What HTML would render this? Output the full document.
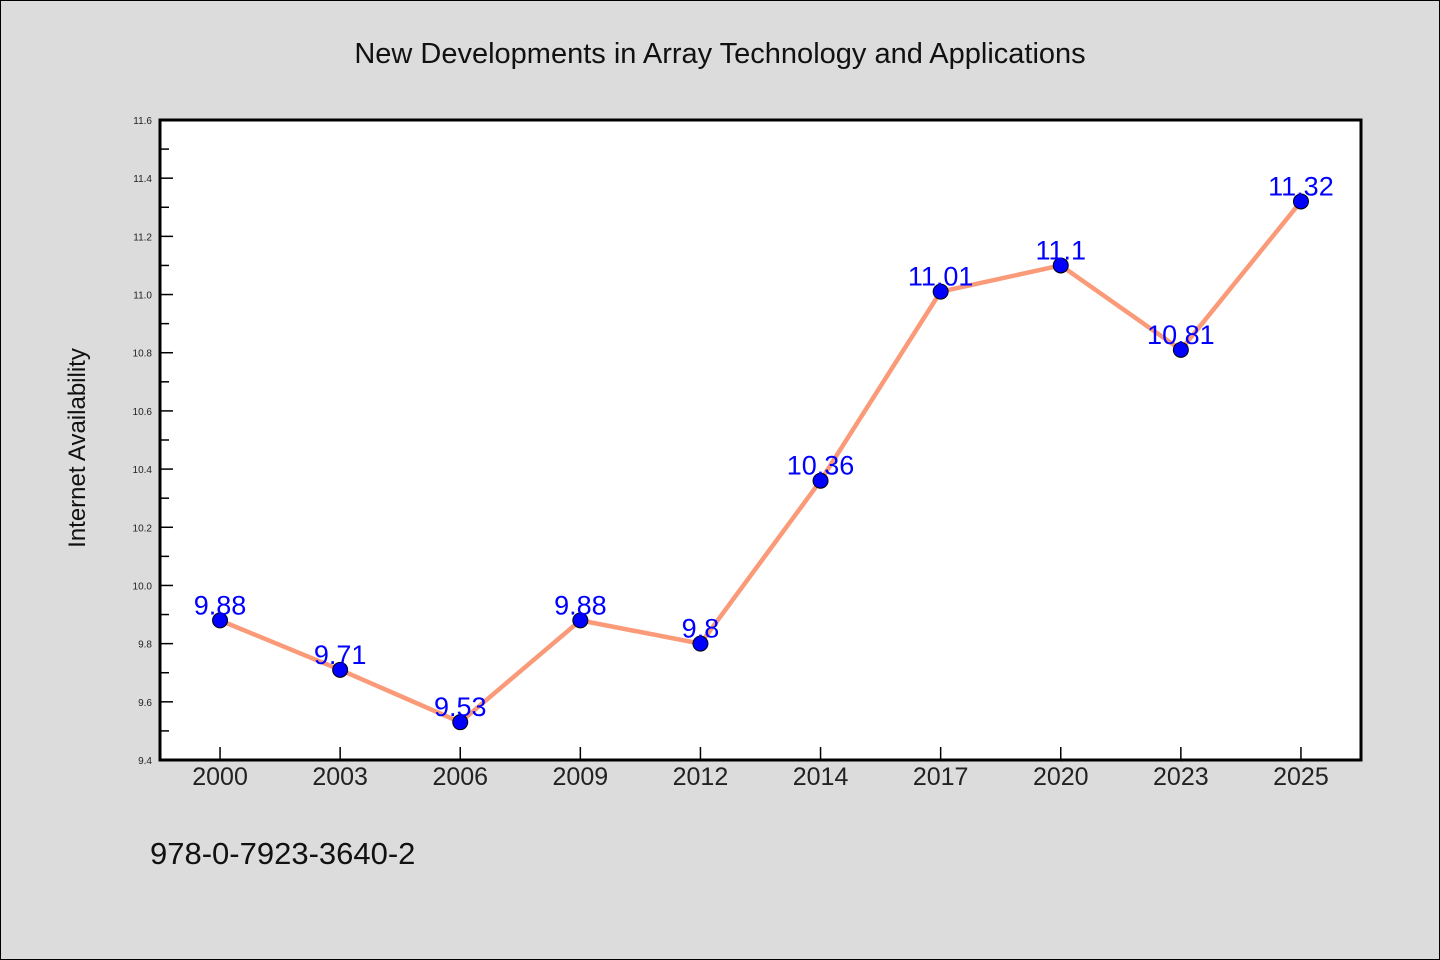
<!DOCTYPE html>
<html><head><meta charset="utf-8"><style>
html,body{margin:0;padding:0;background:#dcdcdc;}
svg{display:block;font-family:"WenQuanYi Zen Hei","Liberation Sans",sans-serif;}
</style></head><body>
<svg id="chart" width="1440" height="960" viewBox="0 0 1440 960">
<rect x="0.5" y="0.5" width="1439" height="959" fill="#dcdcdc" stroke="#000" stroke-width="1"/>
<text x="720" y="63" text-anchor="middle" font-size="29" fill="#111">New Developments in Array Technology and Applications</text>
<rect x="160" y="120" width="1201" height="640" fill="#fff"/>
<g id="yaxis"></g>
<g id="xaxis"></g>
<g id="series"></g>
<rect x="160" y="120" width="1201" height="640" fill="none" stroke="#000" stroke-width="3"/>
<text transform="translate(85,448) rotate(-90)" text-anchor="middle" font-size="24" fill="#111">Internet Availability</text>
<text x="150" y="864" font-size="31" fill="#111">978-0-7923-3640-2</text>
</svg>
<script>
const categories = ["2000","2003","2006","2009","2012","2014","2017","2020","2023","2025"];
const values = [9.88, 9.71, 9.53, 9.88, 9.8, 10.36, 11.01, 11.1, 10.81, 11.32];
const labels = ["9.88","9.71","9.53","9.88","9.8","10.36","11.01","11.1","10.81","11.32"];
const yTicks = ["9.4","9.6","9.8","10.0","10.2","10.4","10.6","10.8","11.0","11.2","11.4","11.6"];
const NS="http://www.w3.org/2000/svg";
const L=160,R=1361,T=120,B=760,yMin=9.4,yMax=11.6;
const xs=i=>L+(R-L)/categories.length*(i+0.5);
const ys=v=>B-(v-yMin)/(yMax-yMin)*(B-T);
function mk(tag,attrs,parent){const e=document.createElementNS(NS,tag);for(const k in attrs)e.setAttribute(k,attrs[k]);parent.appendChild(e);return e;}
const ya=document.getElementById('yaxis'),xa=document.getElementById('xaxis'),sg=document.getElementById('series');
yTicks.forEach((t,i)=>{
  const v=parseFloat(t),y=ys(v);
  const ln=mk('line',{x1:L,x2:L+13,y1:y,y2:y,stroke:'#000','stroke-width':1.5},ya);
  
  
  const tx=mk('text',{x:152,y:y+4,'text-anchor':'end','font-size':10,fill:'#222'},ya);
  tx.textContent=t;
  
  
  if(i<yTicks.length-1){
    const ym=ys(v+0.1);
    const mn=mk('line',{x1:L,x2:L+9,y1:ym,y2:ym,stroke:'#000','stroke-width':1.5},ya);
    
    
  }
});
categories.forEach((c,i)=>{
  const x=xs(i);
  const ln=mk('line',{x1:x,x2:x,y1:B,y2:B-13,stroke:'#000','stroke-width':1.5},xa);
  
  
  const tx=mk('text',{x:x,y:785,'text-anchor':'middle','font-size':25,fill:'#222'},xa);
  tx.textContent=c;
  
  
});
const pts=values.map((v,i)=>xs(i)+','+ys(v)).join(' ');
const pl=mk('polyline',{points:pts,fill:'none',stroke:'#fa9a78','stroke-width':4.5,'stroke-linejoin':'round'},sg);


values.forEach((v,i)=>{
  const c=mk('circle',{cx:xs(i),cy:ys(v),r:7.5,fill:'#0000ff',stroke:'#000','stroke-width':1},sg);
  
  
});
values.forEach((v,i)=>{
  const t=mk('text',{x:xs(i),y:ys(v)-6,'text-anchor':'middle','font-size':27,fill:'#0000ff'},sg);
  t.textContent=labels[i];
  
  
});
</script>
</body></html>
